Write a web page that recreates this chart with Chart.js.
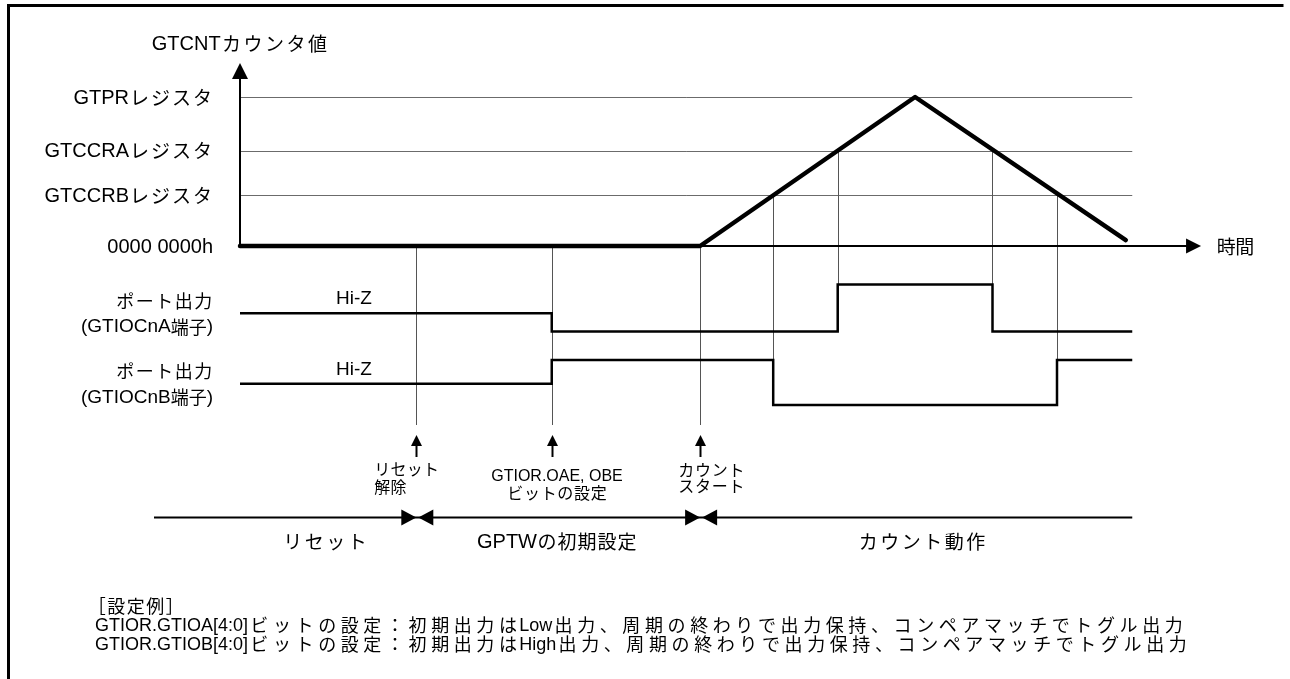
<!DOCTYPE html>
<html>
<head>
<meta charset="utf-8">
<script src="https://cdn.jsdelivr.net/npm/chart.js@4/dist/chart.umd.min.js"></script>
<style>
  html, body { margin: 0; padding: 0; background: #fff; }
  #wrap { position: relative; width: 1290px; height: 679px; }
</style>
</head>
<body>
<div id="wrap"><canvas id="c" width="1290" height="679"></canvas></div>
<script>
// ---- Register levels of the GTCNT counter (counts, GTPR = 100) ----
const registerNames  = ['GTPRレジスタ', 'GTCCRAレジスタ', 'GTCCRBレジスタ', '0000 0000h'];
const registerValues = [100, 64, 34, 0];

// ---- Counter waveform (time, count) ----
const counterTimes  = [0, 214, 314, 412];
const counterValues = [0, 0, 100, 4];

// ---- Events on the time axis ----
const eventTimes  = [82, 145, 214];
const eventLabels = [['リセット', '解除'], ['GTIOR.OAE, OBE', 'ビットの設定'], ['カウント', 'スタート']];

// ---- Compare matches: time and the register that matched ----
const compareTimes     = [248, 278, 350, 380];
const compareRegisters = ['GTCCRB', 'GTCCRA', 'GTCCRA', 'GTCCRB'];

// ---- Port outputs: level from each time on (1 = High, 0 = Low, Hi-Z in between) ----
const portATimes  = [0, 145, 278, 350, 415];
const portALevels = [0.39, 0, 1, 0, 0];
const portBTimes  = [0, 145, 248, 380, 415];
const portBLevels = [0.47, 1, 0, 1, 1];
const portNames   = [['ポート出力', '(GTIOCnA端子)'], ['ポート出力', '(GTIOCnB端子)']];

// ---- Phases ----
const phaseBounds = [-40, 82, 214, 415];
const phaseNames  = ['リセット', 'GPTWの初期設定', 'カウント動作'];

// ---- Texts ----
const axisTitle = 'GTCNTカウンタ値';
const timeTitle = '時間';
const hiZLabel  = 'Hi-Z';
const noteLines = [
  '［設定例］',
  'GTIOR.GTIOA[4:0]ビットの設定：初期出力はLow出力、周期の終わりで出力保持、コンペアマッチでトグル出力',
  'GTIOR.GTIOB[4:0]ビットの設定：初期出力はHigh出力、周期の終わりで出力保持、コンペアマッチでトグル出力'
];

// ---- Layout (pixels) ----
const W = 1290, H = 679;
const X0 = 240, XPU = 2.15;           // time 0 position, px per time unit
const Y0 = 246, YPU = 1.49;           // count 0 position, px per count
const PA_HI = 284.5, PA_LO = 331.5;   // port A levels
const PB_HI = 360, PB_LO = 405;       // port B levels
const GRID_END = 415, AXIS_END = 447;
const GUIDE_BOTTOM = 425;
const PHASE_LABEL_X = [325, 557, 922];
const LATIN = '"Liberation Sans", Arial, sans-serif';
const CJK = '"Noto Sans CJK JP", "Noto Sans CJK SC", sans-serif';

function pxRange(p0, p1, v0, v1, size) {
  // linear scale with v0 at pixel p0 and v1 at pixel p1, over a canvas of given size
  const ppu = (p1 - p0) / (v1 - v0);
  const vmin = v0 - p0 / ppu;
  const vmax = v0 + (size - p0) / ppu;
  return ppu > 0 ? { min: vmin, max: vmax } : { min: vmax, max: vmin };
}

const xr  = pxRange(X0, X0 + XPU * 100, 0, 100, W);
const yr  = pxRange(Y0, Y0 - YPU * 100, 0, 100, H);
const par = pxRange(PA_LO, PA_HI, 0, 1, H);
const pbr = pxRange(PB_LO, PB_HI, 0, 1, H);

function pts(xs, ys) { return xs.map((x, i) => ({ x, y: ys[i] })); }

// Mixed Latin / Japanese text with a fixed advance for each Japanese glyph
function drawMixed(ctx, text, x, y, st) {
  const runs = [];
  let cur = null;
  for (const ch of text) {
    const cjk = ch.codePointAt(0) > 0x2000;
    if (cjk || !cur || cur.cjk) { cur = { cjk, s: '' }; runs.push(cur); }
    cur.s += ch;
  }
  const lf = `${st.size}px ${LATIN}`;
  const cf = `${st.cjkSize || st.size}px ${CJK}`;
  ctx.font = lf;
  let total = 0;
  runs.forEach(r => { r.w = r.cjk ? st.adv : ctx.measureText(r.s).width; total += r.w; });
  let cx = st.align === 'right' ? x - total : st.align === 'center' ? x - total / 2 : x;
  ctx.fillStyle = '#000';
  ctx.textBaseline = 'middle';
  runs.forEach(r => {
    if (r.cjk) { ctx.font = cf; ctx.textAlign = 'center'; ctx.fillText(r.s, cx + r.w / 2, y + 0.5); }
    else { ctx.font = lf; ctx.textAlign = 'left'; ctx.fillText(r.s, cx, y + 1); }
    cx += r.w;
  });
}

function line(ctx, x1, y1, x2, y2, w, color) {
  ctx.beginPath();
  ctx.lineWidth = w;
  ctx.strokeStyle = color || '#000';
  ctx.moveTo(x1, y1);
  ctx.lineTo(x2, y2);
  ctx.stroke();
}

function tri(ctx, tipX, tipY, dir, len, half) {
  ctx.beginPath();
  ctx.fillStyle = '#000';
  if (dir === 'up')    { ctx.moveTo(tipX, tipY); ctx.lineTo(tipX - half, tipY + len); ctx.lineTo(tipX + half, tipY + len); }
  if (dir === 'right') { ctx.moveTo(tipX, tipY); ctx.lineTo(tipX - len, tipY - half); ctx.lineTo(tipX - len, tipY + half); }
  if (dir === 'left')  { ctx.moveTo(tipX, tipY); ctx.lineTo(tipX + len, tipY - half); ctx.lineTo(tipX + len, tipY + half); }
  ctx.closePath();
  ctx.fill();
}

const diagram = {
  id: 'diagram',
  beforeDatasetsDraw(chart) {
    const { ctx } = chart;
    const x = chart.scales.x, y = chart.scales.y, pa = chart.scales.pa, pb = chart.scales.pb;
    ctx.save();
    ctx.fillStyle = '#fff';
    ctx.fillRect(0, 0, W, H);

    // register levels
    registerValues.forEach(v => {
      if (v === 0) return;
      const py = Math.round(y.getPixelForValue(v)) + 0.5;
      line(ctx, x.getPixelForValue(0), py, x.getPixelForValue(GRID_END), py, 1, '#6b6b6b');
    });

    // event guides
    eventTimes.forEach(t => {
      const px = Math.round(x.getPixelForValue(t)) + 0.5;
      line(ctx, px, y.getPixelForValue(0), px, GUIDE_BOTTOM, 1, '#555');
    });

    // compare-match guides
    compareTimes.forEach((t, i) => {
      const reg = compareRegisters[i];
      const v = registerValues[registerNames.indexOf(reg + 'レジスタ')];
      const bottom = reg === 'GTCCRA' ? pa.getPixelForValue(0) : pb.getPixelForValue(0);
      const px = Math.round(x.getPixelForValue(t)) + 0.5;
      line(ctx, px, y.getPixelForValue(v), px, bottom, 1, '#555');
    });

    // time axis
    const zy = y.getPixelForValue(0);
    const ax0 = x.getPixelForValue(0), ax1 = x.getPixelForValue(AXIS_END);
    line(ctx, ax0, zy, ax1 - 12, zy, 2);
    tri(ctx, ax1, zy, 'right', 15, 7.5);

    // count axis
    line(ctx, ax0, zy, ax0, 78, 2);
    tri(ctx, ax0, 63, 'up', 16, 8);
    ctx.restore();
  },
  afterDatasetsDraw(chart) {
    const { ctx } = chart;
    const x = chart.scales.x, y = chart.scales.y, pa = chart.scales.pa, pb = chart.scales.pb;
    ctx.save();

    // axis texts
    drawMixed(ctx, axisTitle, x.getPixelForValue(0), 43, { size: 20, cjkSize: 19, adv: 21.5, align: 'center' });
    registerNames.forEach((n, i) => {
      drawMixed(ctx, n, 213, y.getPixelForValue(registerValues[i]), { size: 20, cjkSize: 19, adv: 21, align: 'right' });
    });
    drawMixed(ctx, timeTitle, 1217, y.getPixelForValue(0), { size: 20, cjkSize: 19, adv: 18.5, align: 'left' });

    // port names and Hi-Z marks
    const portScales = [pa, pb];
    const portHiZ = [portALevels[0], portBLevels[0]];
    portNames.forEach((lines, i) => {
      const mid = portScales[i].getPixelForValue(portHiZ[i]);
      drawMixed(ctx, lines[0], 213, mid - 13, { size: 19, cjkSize: 18, adv: 19.5, align: 'right' });
      drawMixed(ctx, lines[1], 213, mid + 13, { size: 19, cjkSize: 18, adv: 18, align: 'right' });
      drawMixed(ctx, hiZLabel, 354, mid - 15, { size: 19, adv: 19, align: 'center' });
    });

    // event arrows and labels
    eventTimes.forEach((t, i) => {
      const px = Math.round(x.getPixelForValue(t)) + 0.5;
      line(ctx, px, 444, px, 457, 2);
      tri(ctx, px, 435, 'up', 11, 5.5);
    });
    const evStyle = { size: 16, cjkSize: 16, adv: 16.3 };
    // リセット解除 and カウントスタート are set flush left, the register note is centred
    drawMixed(ctx, eventLabels[0][0], 374, 468, { ...evStyle, align: 'left' });
    drawMixed(ctx, eventLabels[0][1], 374, 486, { ...evStyle, align: 'left' });
    drawMixed(ctx, eventLabels[1][0], 557, 476, { ...evStyle, align: 'center' });
    drawMixed(ctx, eventLabels[1][1], 557, 492, { ...evStyle, adv: 16.7, align: 'center' });
    drawMixed(ctx, eventLabels[2][0], 678, 469, { ...evStyle, adv: 16.7, align: 'left' });
    drawMixed(ctx, eventLabels[2][1], 678, 485, { ...evStyle, adv: 16.7, align: 'left' });

    // phase arrows
    const py = 517.5;
    const p0 = x.getPixelForValue(phaseBounds[0]);
    const pN = x.getPixelForValue(phaseBounds[phaseBounds.length - 1]);
    line(ctx, p0, py, pN, py, 2);
    phaseBounds.slice(1, -1).forEach(t => {
      const bx = x.getPixelForValue(t);
      tri(ctx, bx, py, 'right', 15, 8);
      tri(ctx, bx + 2, py, 'left', 15, 8);
    });
    phaseNames.forEach((n, i) => {
      drawMixed(ctx, n, PHASE_LABEL_X[i], 541, { size: 20, cjkSize: 19, adv: i === 1 ? 20 : 21.5, align: 'center' });
    });

    // setting notes
    drawMixed(ctx, noteLines[0], 87, 606, { size: 18, cjkSize: 18, adv: 19.5, align: 'left' });
    drawMixed(ctx, noteLines[1], 95, 625, { size: 18, cjkSize: 18, adv: 22.6, align: 'left' });
    drawMixed(ctx, noteLines[2], 95, 644, { size: 18, cjkSize: 18, adv: 22.6, align: 'left' });

    // frame
    ctx.beginPath();
    ctx.lineWidth = 3;
    ctx.strokeStyle = '#000';
    ctx.moveTo(8.5, H);
    ctx.lineTo(8.5, 5.5);
    ctx.lineTo(1283.5, 5.5);
    ctx.stroke();
    ctx.restore();
  }
};

new Chart(document.getElementById('c'), {
  type: 'line',
  data: {
    datasets: [
      {
        label: 'GTCNT',
        data: pts(counterTimes, counterValues),
        yAxisID: 'y',
        borderColor: '#000',
        borderWidth: 4.5,
        borderCapStyle: 'round',
        borderJoinStyle: 'round',
        pointRadius: 0,
        tension: 0,
        fill: false
      },
      {
        label: 'GTIOCnA',
        data: pts(portATimes, portALevels),
        yAxisID: 'pa',
        borderColor: '#000',
        borderWidth: 2.5,
        borderJoinStyle: 'miter',
        stepped: 'before',
        pointRadius: 0,
        fill: false
      },
      {
        label: 'GTIOCnB',
        data: pts(portBTimes, portBLevels),
        yAxisID: 'pb',
        borderColor: '#000',
        borderWidth: 2.5,
        borderJoinStyle: 'miter',
        stepped: 'before',
        pointRadius: 0,
        fill: false
      }
    ]
  },
  options: {
    responsive: false,
    animation: false,
    events: [],
    layout: { padding: 0 },
    plugins: { legend: { display: false }, tooltip: { enabled: false } },
    scales: {
      x:  { type: 'linear', display: false, min: xr.min,  max: xr.max },
      y:  { type: 'linear', display: false, min: yr.min,  max: yr.max },
      pa: { type: 'linear', display: false, min: par.min, max: par.max },
      pb: { type: 'linear', display: false, min: pbr.min, max: pbr.max }
    }
  },
  plugins: [diagram]
});
</script>
</body>
</html>
